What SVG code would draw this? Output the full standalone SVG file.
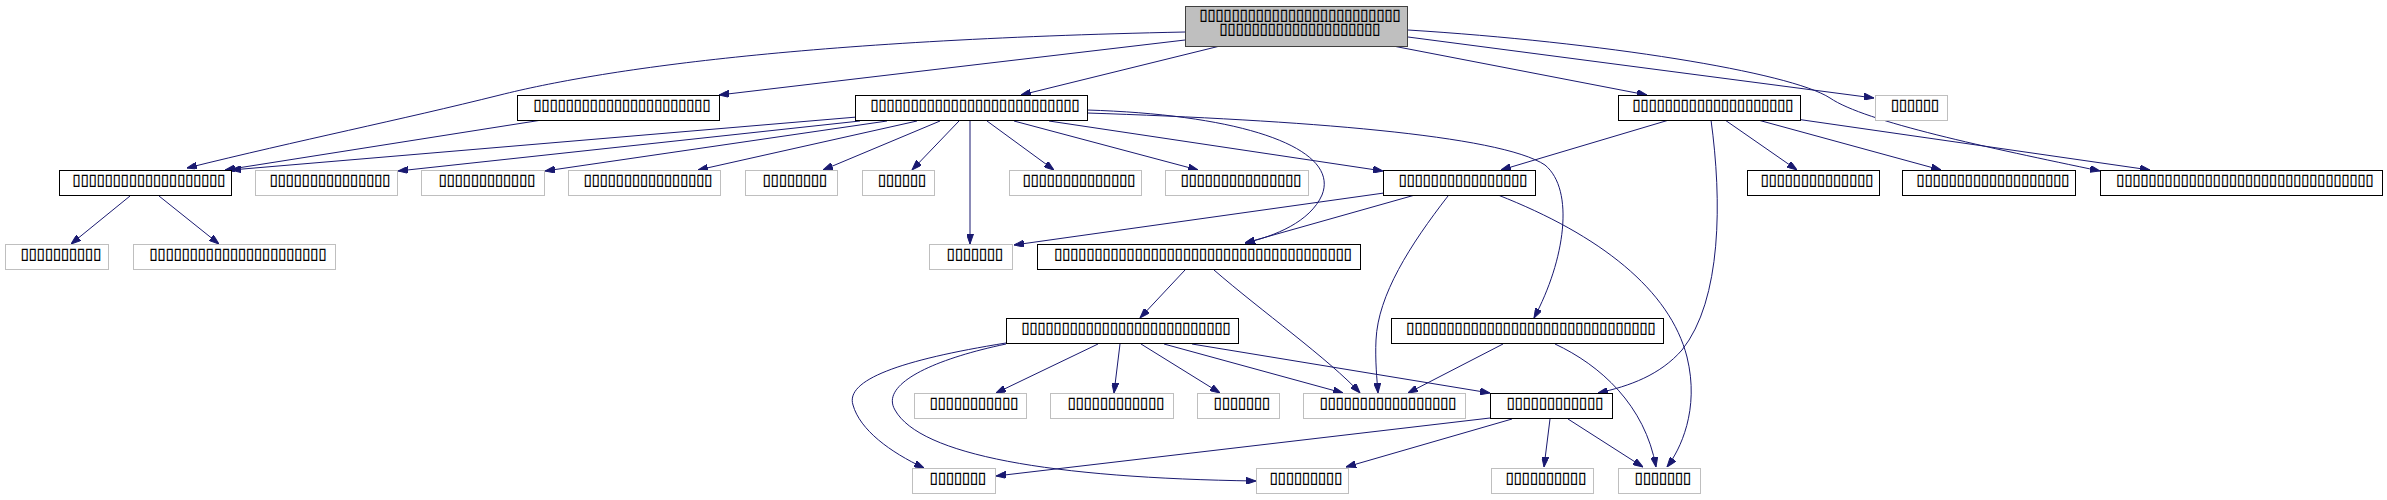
<svg xmlns="http://www.w3.org/2000/svg" width="2387" height="500" viewBox="0 0 2387 500">
<style>
rect{stroke-width:1}
.n rect{fill:#fff;stroke:#000}
.g rect{fill:#fff;stroke:#bfbfbf}
.r rect{fill:#bfbfbf;stroke:#404040}
text{font-family:"DejaVu Sans Mono","Liberation Mono",monospace;font-size:20px;letter-spacing:-4px;fill:#000;text-anchor:middle}
#edges path{fill:none;stroke:#191970;stroke-width:1;marker-end:url(#ah)}
</style>
<defs>
<marker id="ah" viewBox="0 0 10 7" refX="10" refY="3.5" markerWidth="10" markerHeight="7" markerUnits="userSpaceOnUse" orient="auto"><path d="M0,0 L10,3.5 L0,7 z" fill="#191970" stroke="#191970" stroke-width="1"/></marker>
</defs>
<rect width="2387" height="500" fill="#fff"/>
<g id="edges">
<path d="M1185,32 C800,40 600,70 500,95 C400,120 300,140 187,168"/>
<path d="M1185,40 L719,95"/>
<path d="M1220,46 L1021,95"/>
<path d="M1393,46 L1647,95"/>
<path d="M1408,37 L1874,98"/>
<path d="M1408,30 C1600,42 1790,72 1830,98 C1865,122 1990,148 2100,171"/>
<path d="M542,120 L225,170"/>
<path d="M857,117 L231,170"/>
<path d="M860,121 L398,171"/>
<path d="M887,121 L545,171"/>
<path d="M917,121 L698,170"/>
<path d="M940,121 L823,170"/>
<path d="M959,121 L912,170"/>
<path d="M970,121 L970,244"/>
<path d="M987,121 L1054,170"/>
<path d="M1014,121 L1198,170"/>
<path d="M1049,121 L1383,171"/>
<path d="M1087,110 C1250,115 1340,150 1322,195 C1310,222 1275,236 1245,243"/>
<path d="M1087,113 C1300,120 1500,135 1545,165 C1575,190 1565,260 1534,318"/>
<path d="M1669,120 L1501,170"/>
<path d="M1725,120 L1797,170"/>
<path d="M1758,120 L1941,170"/>
<path d="M1796,119 L2150,170"/>
<path d="M1711,120 C1722,200 1722,300 1682,350 C1660,375 1630,386 1598,393"/>
<path d="M1384,193 L1014,245"/>
<path d="M1415,195 L1245,243"/>
<path d="M1448,196 C1410,245 1378,295 1376,340 C1375,360 1377,380 1378,393"/>
<path d="M1498,195 C1600,235 1670,290 1687,357 C1700,410 1680,450 1667,467"/>
<path d="M130,196 L71,244"/>
<path d="M159,196 L219,244"/>
<path d="M1185,270 L1140,318"/>
<path d="M1214,270 C1260,310 1330,360 1360,393"/>
<path d="M1098,344 L996,393"/>
<path d="M1120,344 L1114,393"/>
<path d="M1141,344 L1220,393"/>
<path d="M1164,344 L1343,393"/>
<path d="M1192,344 L1490,393"/>
<path d="M1006,343 C900,360 845,380 853,405 C860,430 890,452 924,468"/>
<path d="M1006,344 C930,360 880,385 895,410 C920,455 1050,478 1256,481"/>
<path d="M1503,344 L1408,393"/>
<path d="M1555,344 C1600,365 1645,405 1656,467"/>
<path d="M1490,418 L996,476"/>
<path d="M1512,419 L1346,467"/>
<path d="M1550,419 L1544,467"/>
<path d="M1568,419 L1643,467"/>
</g>
<g id="R" class="r"><rect x="1185.5" y="6.5" width="222" height="40"/><text x="1298" y="21">▯▯▯▯▯▯▯▯▯▯▯▯▯▯▯▯▯▯▯▯▯▯▯▯▯</text><text x="1298" y="35">▯▯▯▯▯▯▯▯▯▯▯▯▯▯▯▯▯▯▯▯</text></g>
<g id="A" class="n"><rect x="517.5" y="95.5" width="202" height="25"/><text x="620" y="111">▯▯▯▯▯▯▯▯▯▯▯▯▯▯▯▯▯▯▯▯▯▯</text></g>
<g id="B" class="n"><rect x="855.5" y="95.5" width="232" height="25"/><text x="973" y="111">▯▯▯▯▯▯▯▯▯▯▯▯▯▯▯▯▯▯▯▯▯▯▯▯▯▯</text></g>
<g id="C" class="n"><rect x="1618.5" y="95.5" width="182" height="25"/><text x="1711" y="111">▯▯▯▯▯▯▯▯▯▯▯▯▯▯▯▯▯▯▯▯</text></g>
<g id="D" class="g"><rect x="1875.5" y="95.5" width="72" height="25"/><text x="1913" y="111">▯▯▯▯▯▯</text></g>
<g id="E" class="n"><rect x="59.5" y="170.5" width="172" height="25"/><text x="147" y="186">▯▯▯▯▯▯▯▯▯▯▯▯▯▯▯▯▯▯▯</text></g>
<g id="F" class="g"><rect x="255.5" y="170.5" width="142" height="25"/><text x="328" y="186">▯▯▯▯▯▯▯▯▯▯▯▯▯▯▯</text></g>
<g id="G" class="g"><rect x="421.5" y="170.5" width="123" height="25"/><text x="485" y="186">▯▯▯▯▯▯▯▯▯▯▯▯</text></g>
<g id="H" class="g"><rect x="568.5" y="170.5" width="152" height="25"/><text x="646" y="186">▯▯▯▯▯▯▯▯▯▯▯▯▯▯▯▯</text></g>
<g id="I" class="g"><rect x="745.5" y="170.5" width="92" height="25"/><text x="793" y="186">▯▯▯▯▯▯▯▯</text></g>
<g id="J" class="g"><rect x="862.5" y="170.5" width="72" height="25"/><text x="900" y="186">▯▯▯▯▯▯</text></g>
<g id="K" class="g"><rect x="1009.5" y="170.5" width="132" height="25"/><text x="1077" y="186">▯▯▯▯▯▯▯▯▯▯▯▯▯▯</text></g>
<g id="L" class="g"><rect x="1165.5" y="170.5" width="143" height="25"/><text x="1239" y="186">▯▯▯▯▯▯▯▯▯▯▯▯▯▯▯</text></g>
<g id="M" class="n"><rect x="1383.5" y="170.5" width="152" height="25"/><text x="1461" y="186">▯▯▯▯▯▯▯▯▯▯▯▯▯▯▯▯</text></g>
<g id="N" class="n"><rect x="1747.5" y="170.5" width="132" height="25"/><text x="1815" y="186">▯▯▯▯▯▯▯▯▯▯▯▯▯▯</text></g>
<g id="O" class="n"><rect x="1902.5" y="170.5" width="173" height="25"/><text x="1991" y="186">▯▯▯▯▯▯▯▯▯▯▯▯▯▯▯▯▯▯▯</text></g>
<g id="P" class="n"><rect x="2100.5" y="170.5" width="282" height="25"/><text x="2243" y="186">▯▯▯▯▯▯▯▯▯▯▯▯▯▯▯▯▯▯▯▯▯▯▯▯▯▯▯▯▯▯▯▯</text></g>
<g id="Q" class="g"><rect x="5.5" y="244.5" width="103" height="25"/><text x="59" y="260">▯▯▯▯▯▯▯▯▯▯</text></g>
<g id="S" class="g"><rect x="133.5" y="244.5" width="202" height="25"/><text x="236" y="260">▯▯▯▯▯▯▯▯▯▯▯▯▯▯▯▯▯▯▯▯▯▯</text></g>
<g id="T" class="g"><rect x="929.5" y="244.5" width="83" height="25"/><text x="973" y="260">▯▯▯▯▯▯▯</text></g>
<g id="U" class="n"><rect x="1037.5" y="244.5" width="323" height="25"/><text x="1201" y="260">▯▯▯▯▯▯▯▯▯▯▯▯▯▯▯▯▯▯▯▯▯▯▯▯▯▯▯▯▯▯▯▯▯▯▯▯▯</text></g>
<g id="V" class="n"><rect x="1006.5" y="318.5" width="232" height="25"/><text x="1124" y="334">▯▯▯▯▯▯▯▯▯▯▯▯▯▯▯▯▯▯▯▯▯▯▯▯▯▯</text></g>
<g id="W" class="n"><rect x="1391.5" y="318.5" width="272" height="25"/><text x="1529" y="334">▯▯▯▯▯▯▯▯▯▯▯▯▯▯▯▯▯▯▯▯▯▯▯▯▯▯▯▯▯▯▯</text></g>
<g id="X" class="g"><rect x="914.5" y="393.5" width="112" height="25"/><text x="972" y="409">▯▯▯▯▯▯▯▯▯▯▯</text></g>
<g id="Y" class="g"><rect x="1050.5" y="393.5" width="123" height="25"/><text x="1114" y="409">▯▯▯▯▯▯▯▯▯▯▯▯</text></g>
<g id="Z" class="g"><rect x="1197.5" y="393.5" width="82" height="25"/><text x="1240" y="409">▯▯▯▯▯▯▯</text></g>
<g id="AA" class="g"><rect x="1303.5" y="393.5" width="162" height="25"/><text x="1386" y="409">▯▯▯▯▯▯▯▯▯▯▯▯▯▯▯▯▯</text></g>
<g id="AB" class="n"><rect x="1490.5" y="393.5" width="122" height="25"/><text x="1553" y="409">▯▯▯▯▯▯▯▯▯▯▯▯</text></g>
<g id="AC" class="g"><rect x="912.5" y="468.5" width="83" height="25"/><text x="956" y="484">▯▯▯▯▯▯▯</text></g>
<g id="AD" class="g"><rect x="1256.5" y="468.5" width="92" height="25"/><text x="1304" y="484">▯▯▯▯▯▯▯▯▯</text></g>
<g id="AE" class="g"><rect x="1491.5" y="468.5" width="102" height="25"/><text x="1544" y="484">▯▯▯▯▯▯▯▯▯▯</text></g>
<g id="AF" class="g"><rect x="1618.5" y="468.5" width="82" height="25"/><text x="1661" y="484">▯▯▯▯▯▯▯</text></g>
</svg>
